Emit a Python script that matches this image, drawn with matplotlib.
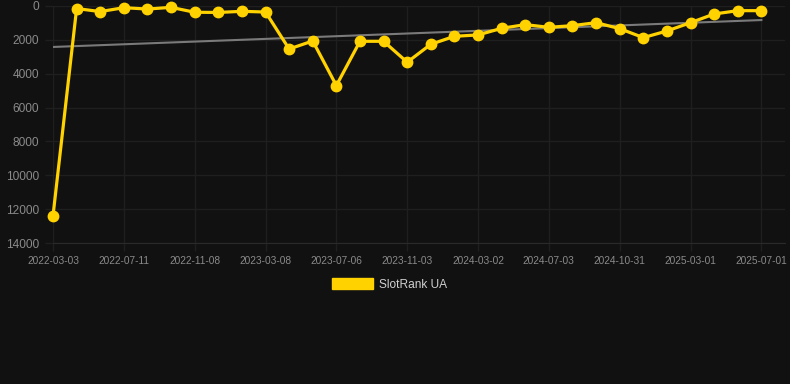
import matplotlib
matplotlib.use("Agg")
import matplotlib.pyplot as plt
from matplotlib.patches import Patch

plt.rcParams['font.family'] = ['Liberation Sans', 'DejaVu Sans']

# ---- data ----
rank_values = [12400, 150, 330, 100, 180, 80, 370, 380, 315, 355,
               2540, 2065, 4700, 2085, 2085, 3320, 2262, 1790, 1710, 1317,
               1100, 1260, 1160, 985, 1337, 1868, 1475, 985, 472, 275, 275]
tick_positions = [0, 3, 6, 9, 12, 15, 18, 21, 24, 27, 30]
tick_labels = ['2022-03-03', '2022-07-11', '2022-11-08', '2023-03-08', '2023-07-06',
               '2023-11-03', '2024-03-02', '2024-07-03', '2024-10-31', '2025-03-01',
               '2025-07-01']
trend_x = [0, 30]
trend_values = [2420, 830]
y_ticks = [0, 2000, 4000, 6000, 8000, 10000, 12000, 14000]
series_name = 'SlotRank UA'

# ---- style ----
BG = '#111111'
GRID = '#1f1f1f'
GOLD = '#FFD200'

W, H = 790, 384
fig = plt.figure(figsize=(W / 100, H / 100), dpi=100, facecolor=BG)
ax = fig.add_axes([53 / W, 1 - 243 / H, (785 - 53) / W, (243 - 6) / H])
ax.set_facecolor(BG)

x = list(range(len(rank_values)))
ax.plot(trend_x, trend_values, color='#7a7a7a', linewidth=1.5, zorder=2)
ax.plot(x, rank_values, color=GOLD, linewidth=2.3, marker='o', markersize=7.5,
        markerfacecolor=GOLD, markeredgecolor=GOLD, zorder=3, clip_on=False)

ax.set_xlim(0, len(rank_values))
ax.set_ylim(14000, 0)
ax.set_yticks(y_ticks)
ax.set_yticklabels([str(v) for v in y_ticks])
ax.set_xticks(tick_positions)
ax.set_xticklabels(tick_labels)

ax.grid(True, color=GRID, linewidth=1)
ax.set_axisbelow(True)
for s in ax.spines.values():
    s.set_visible(False)
ax.spines['bottom'].set_visible(True)
ax.spines['bottom'].set_color('#2a2a2a')
ax.tick_params(axis='x', colors=GRID, length=6, width=1, labelsize=7.3, labelcolor='#8a8a8a', pad=3)
ax.tick_params(axis='y', colors=GRID, length=6, width=1, labelsize=8.6, labelcolor='#8a8a8a', pad=4)

handle = Patch(facecolor=GOLD, edgecolor=GOLD)
leg = fig.legend([handle], [series_name], loc='center',
                 bbox_to_anchor=(389.5 / W, 1 - 284.5 / H), frameon=False,
                 handlelength=3.4, handleheight=1.0, handletextpad=0.5,
                 borderpad=0, fontsize=8.6)
for t in leg.get_texts():
    t.set_color('#d0d0d0')

fig.savefig('out.png', dpi=100, facecolor=BG)
